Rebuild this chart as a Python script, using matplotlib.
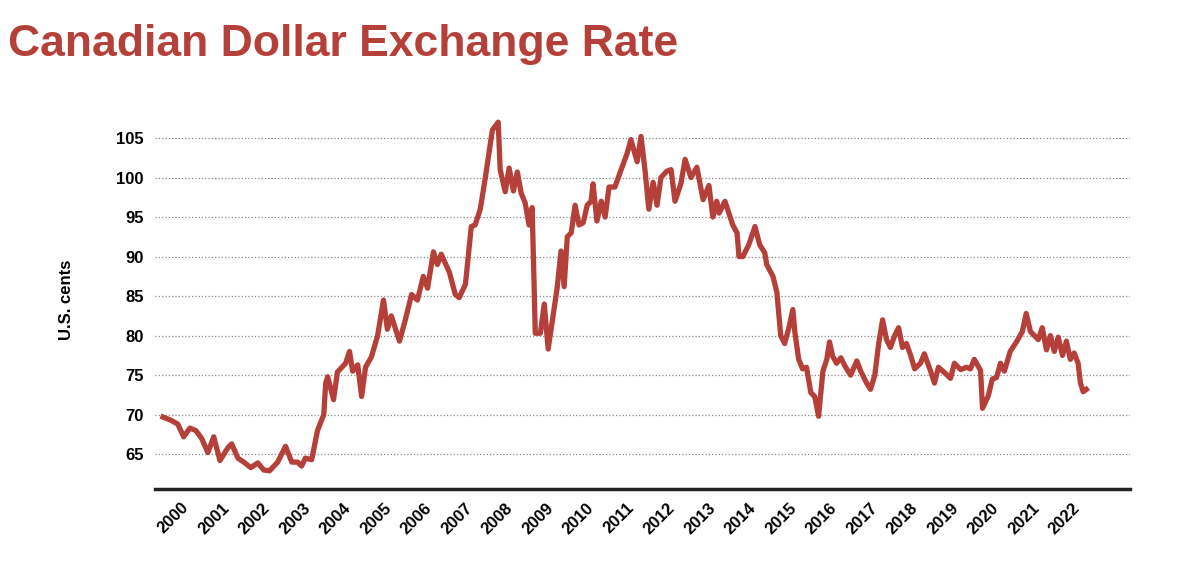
import matplotlib.pyplot as plt

plt.rcParams['font.family'] = ['Liberation Sans', 'DejaVu Sans']

red = '#b5403a'

t = [1999.21, 1999.41, 1999.59, 1999.74, 1999.90, 2000.05, 2000.20, 2000.36, 2000.51, 2000.67,
     2000.87, 2000.97, 2001.13, 2001.28, 2001.46, 2001.64, 2001.79, 2001.94, 2002.15, 2002.35,
     2002.51, 2002.66, 2002.76, 2002.86, 2003.02, 2003.17, 2003.33, 2003.38, 2003.43, 2003.58,
     2003.68, 2003.89, 2003.99, 2004.07, 2004.20, 2004.30, 2004.40, 2004.55, 2004.71, 2004.86,
     2004.96, 2005.06, 2005.17, 2005.27, 2005.42, 2005.58, 2005.73, 2005.88, 2005.99, 2006.14,
     2006.24, 2006.34, 2006.55, 2006.70, 2006.80, 2006.96, 2007.11, 2007.21, 2007.34, 2007.47,
     2007.65, 2007.80, 2007.85, 2007.98, 2008.08, 2008.19, 2008.29, 2008.39, 2008.49, 2008.59,
     2008.67, 2008.75, 2008.88, 2008.98, 2009.08, 2009.16, 2009.31, 2009.41, 2009.49, 2009.57,
     2009.67, 2009.77, 2009.87, 2009.98, 2010.08, 2010.18, 2010.23, 2010.33, 2010.44, 2010.54,
     2010.64, 2010.79, 2010.95, 2011.10, 2011.20, 2011.36, 2011.46, 2011.56, 2011.66, 2011.77,
     2011.87, 2011.97, 2012.12, 2012.23, 2012.33, 2012.48, 2012.59, 2012.74, 2012.89, 2013.05,
     2013.20, 2013.30, 2013.40, 2013.46, 2013.61, 2013.81, 2013.92, 2013.97, 2014.07, 2014.22,
     2014.38, 2014.50, 2014.63, 2014.68, 2014.84, 2014.94, 2015.04, 2015.14, 2015.25, 2015.35,
     2015.40, 2015.50, 2015.60, 2015.70, 2015.81, 2015.91, 2016.01, 2016.12, 2016.22, 2016.29,
     2016.37, 2016.47, 2016.58, 2016.68, 2016.83, 2016.99, 2017.09, 2017.24, 2017.34, 2017.45,
     2017.55, 2017.65, 2017.75, 2017.85, 2017.96, 2018.06, 2018.16, 2018.26, 2018.37, 2018.47,
     2018.62, 2018.72, 2018.88, 2018.98, 2019.08, 2019.24, 2019.39, 2019.49, 2019.65, 2019.80,
     2019.90, 2020.00, 2020.16, 2020.21, 2020.36, 2020.46, 2020.57, 2020.67, 2020.77, 2020.92,
     2021.08, 2021.23, 2021.33, 2021.44, 2021.54, 2021.64, 2021.74, 2021.85, 2021.95, 2022.05,
     2022.15, 2022.26, 2022.36, 2022.46, 2022.56, 2022.66, 2022.72, 2022.79, 2022.87]

cents = [69.7, 69.3, 68.8, 67.2, 68.3, 68.0, 67.0, 65.2, 67.2, 64.2,
         65.8, 66.3, 64.5, 64.0, 63.3, 63.9, 63.0, 62.9, 64.0, 66.0,
         64.0, 64.0, 63.5, 64.5, 64.3, 68.0, 70.0, 74.0, 74.8, 71.9,
         75.4, 76.5, 78.0, 75.5, 76.3, 72.3, 76.0, 77.3, 80.0, 84.5,
         80.8, 82.5, 80.8, 79.3, 82.0, 85.2, 84.5, 87.5, 86.0, 90.6,
         89.0, 90.3, 88.0, 85.2, 84.8, 86.5, 93.8, 94.0, 96.0, 100.0,
         106.0, 107.0, 101.0, 98.2, 101.2, 98.3, 100.7, 98.0, 96.8, 94.0,
         96.2, 80.3, 80.3, 84.0, 78.3, 81.0, 86.0, 90.7, 86.2, 92.5,
         93.0, 96.5, 94.0, 94.3, 96.5, 97.0, 99.2, 94.5, 97.0, 95.0,
         98.8, 98.8, 101.0, 103.0, 104.8, 102.0, 105.2, 101.0, 96.0, 99.4,
         96.5, 100.0, 100.8, 101.0, 97.0, 99.2, 102.3, 100.0, 101.3, 97.2,
         99.0, 95.0, 97.0, 95.5, 97.0, 94.0, 93.0, 90.0, 90.0, 91.5,
         93.8, 91.5, 90.5, 89.0, 87.5, 85.5, 80.0, 79.0, 81.0, 83.3,
         80.5, 77.0, 75.8, 76.0, 72.8, 72.3, 69.8, 75.5, 77.0, 79.2,
         77.4, 76.5, 77.2, 76.2, 75.0, 76.8, 75.5, 74.0, 73.2, 75.0,
         79.0, 82.0, 79.5, 78.5, 80.0, 81.0, 78.5, 79.0, 77.5, 75.8,
         76.5, 77.7, 75.5, 74.0, 76.0, 75.3, 74.6, 76.5, 75.7, 76.0,
         75.8, 77.0, 75.6, 70.8, 72.4, 74.5, 74.7, 76.5, 75.5, 78.0,
         79.2, 80.5, 82.8, 80.5, 80.0, 79.5, 81.0, 78.2, 80.0, 78.0,
         79.8, 77.5, 79.3, 77.0, 77.8, 76.5, 74.0, 72.9, 73.2]

years = list(range(2000, 2023))
yticks = [65, 70, 75, 80, 85, 90, 95, 100, 105]

fig = plt.figure(figsize=(12, 5.87), dpi=100)
ax = fig.add_axes([0.129, 0.167, 0.813, 0.645])
ax.plot(t, cents, color=red, linewidth=3.8, solid_joinstyle='round')

ax.set_xlim(1999.0, 2024.0)
ax.set_ylim(60.6, 108.5)
ax.set_yticks(yticks)
# the year labels in the source are spaced slightly wider than the data
ax.set_xticks([1999.67 + 1.038 * i for i in range(len(years))])
ax.set_xticklabels([str(y) for y in years], rotation=45, ha='right',
                   rotation_mode='anchor', fontsize=12, fontweight='bold')
ax.set_yticklabels([str(v) for v in yticks], fontsize=12, fontweight='bold')
ax.tick_params(length=0, pad=8)
ax.grid(axis='y', linestyle=':', color='#888888', linewidth=0.9)
ax.set_axisbelow(True)
for s in ['top', 'right', 'left']:
    ax.spines[s].set_visible(False)
ax.spines['bottom'].set_linewidth(2.5)
ax.spines['bottom'].set_color('#222222')
ax.set_ylabel('U.S. cents', fontsize=12, fontweight='bold', labelpad=30)

fig.text(0.007, 0.925, 'Canadian Dollar Exchange Rate', color=red,
         fontsize=32, fontweight='bold', va='center', ha='left')

fig.savefig('out.png', dpi=100)
